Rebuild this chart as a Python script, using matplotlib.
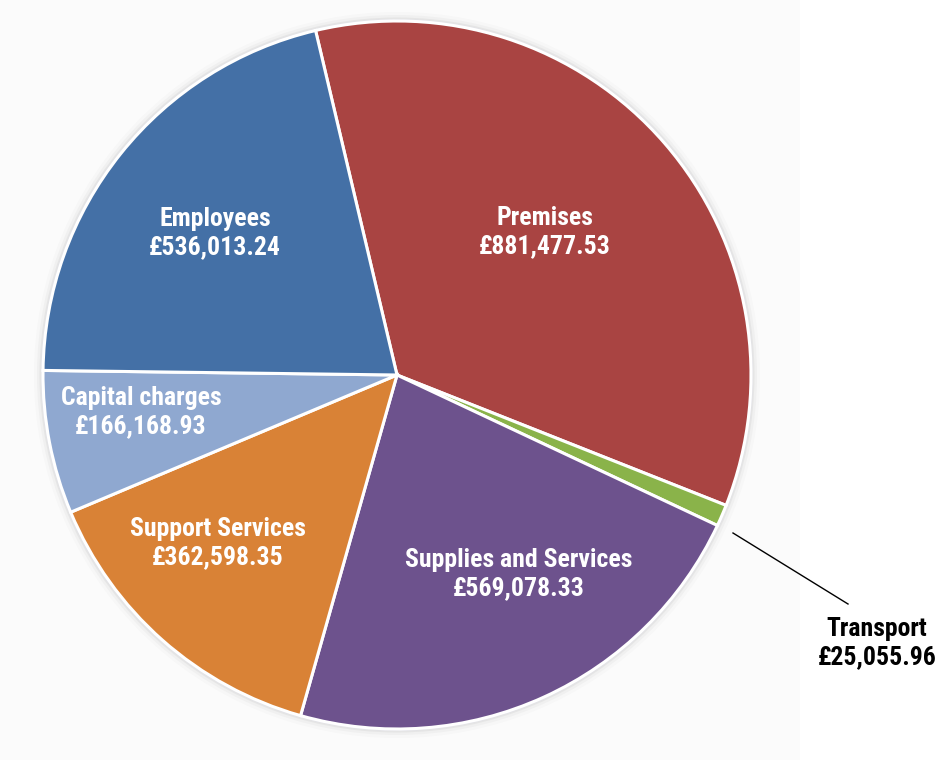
import matplotlib.pyplot as plt
from matplotlib.patches import Circle, Rectangle
from matplotlib import font_manager

# Expenditure by category
categories = ["Premises", "Transport", "Supplies and Services",
              "Support Services", "Capital charges", "Employees"]
values = [881477.53, 25055.96, 569078.33, 362598.35, 166168.93, 536013.24]
colors = ["#A94442", "#8AB34A", "#6D528D", "#D98236", "#8FA8D0", "#4470A6"]

# label anchor points (pixels from top-left), text colour
label_pos = {
    "Premises": (545, 232),
    "Transport": (877, 643),
    "Supplies and Services": (519, 574),
    "Support Services": (218, 543),
    "Capital charges": (141, 412),
    "Employees": (215, 233),
}
label_color = {"Transport": "black"}

available = {f.name for f in font_manager.fontManager.ttflist}
if "Liberation Sans Narrow" in available:
    fam, fsize = ["Liberation Sans Narrow", "DejaVu Sans"], 18.5
elif "Roboto Condensed" in available:
    fam, fsize = ["Roboto Condensed", "DejaVu Sans"], 18.5
else:
    fam, fsize = ["Roboto", "DejaVu Sans"], 15

W, H = 941, 773
fig = plt.figure(figsize=(W / 100, H / 100), dpi=100)
ax = fig.add_axes([0, 0, 1, 1])

def fy(y):
    return H - y

# faint panel behind the pie
ax.add_patch(Rectangle((0, fy(760)), 800, 760, facecolor="#fbfbfb",
                       edgecolor="none", zorder=0))

cx, cy, R = 397, fy(375), 354

# soft grey rim
for dr, a in [(9, 0.04), (6, 0.07), (3.5, 0.12)]:
    ax.add_patch(Circle((cx, cy), R + dr, facecolor="#9a9a9a", alpha=a,
                        edgecolor="none", zorder=1))
ax.add_patch(Circle((cx, cy), R + 2, facecolor="#e2e2e8", edgecolor="none", zorder=1))

ax.pie(values, colors=colors, startangle=103.3, counterclock=False,
       center=(cx, cy), radius=R, frame=True,
       wedgeprops=dict(edgecolor="white", linewidth=2.2, zorder=2))
ax.set_xlim(0, W)
ax.set_ylim(0, H)
ax.set_aspect("equal")
ax.axis("off")

fmt = lambda v: "£{:,.2f}".format(v)
for name, v in zip(categories, values):
    x, y = label_pos[name]
    ax.text(x, fy(y), f"{name}\n{fmt(v)}", ha="center", va="center",
            color=label_color.get(name, "white"), fontsize=fsize,
            fontweight="bold", family=fam, linespacing=1.25, zorder=5)

# leader line for the thin slice
ax.plot([733, 848], [fy(533), fy(604)], color="black", lw=1.0, zorder=5)

fig.savefig("out.png", dpi=100)
